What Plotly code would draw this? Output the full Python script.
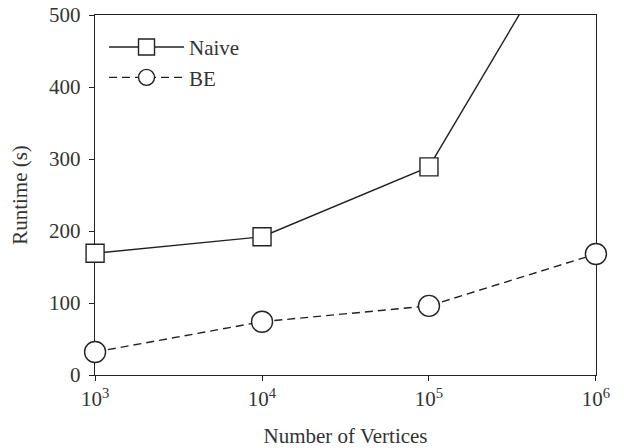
import plotly.graph_objects as go

vertices = [1e3, 1e4, 1e5, 1e6]
naive = [169, 192, 289, 680]
be = [32, 74, 96, 168]
x_tickvals = [1e3, 1e4, 1e5, 1e6]
x_ticktext = ["10<sup>3</sup>", "10<sup>4</sup>", "10<sup>5</sup>", "10<sup>6</sup>"]
y_tickvals = [0, 100, 200, 300, 400, 500]

font_family = "Liberation Serif, DejaVu Serif, serif"
ink = "#222222"
txt = "#333333"

fig = go.Figure()
fig.add_trace(go.Scatter(
    x=vertices, y=naive, name="Naive", mode="lines+markers", cliponaxis=False,
    line=dict(color=ink, width=1.4),
    marker=dict(symbol="square", size=18, color="white", line=dict(color=ink, width=1.4)),
))
fig.add_trace(go.Scatter(
    x=vertices, y=be, name="BE", mode="lines+markers", cliponaxis=False,
    line=dict(color=ink, width=1.4, dash="8px,5px"),
    marker=dict(symbol="circle", size=21, color="white", line=dict(color=ink, width=1.4)),
))

def axis_common():
    return dict(
        showline=True, linecolor=ink, linewidth=1.4, mirror=True,
        ticks="outside", ticklen=5, tickcolor=ink, tickwidth=1.4,
        showgrid=False, zeroline=False, automargin=False, layer="below traces",
        tickfont=dict(family=font_family, size=21, color=txt),
    )

fig.update_layout(
    width=624, height=448,
    margin=dict(l=95, r=28, t=15, b=73),
    paper_bgcolor="white", plot_bgcolor="white",
    font=dict(family=font_family, color=txt, size=21),
    showlegend=True,
    legend=dict(
        x=0.018, y=0.967, xanchor="left", yanchor="top",
        bgcolor="rgba(0,0,0,0)", font=dict(family=font_family, size=21, color=txt),
        itemwidth=75,
    ),
    xaxis=dict(type="log", range=[2.9995, 6.0005], tickvals=x_tickvals, ticktext=x_ticktext,
               title=dict(text="Number of Vertices", standoff=19,
                          font=dict(family=font_family, size=21, color=txt)),
               **axis_common()),
    yaxis=dict(range=[0, 500], tickvals=y_tickvals, ticklabelstandoff=4,
               title=dict(text="Runtime (s)", standoff=15,
                          font=dict(family=font_family, size=21, color=txt)),
               **axis_common()),
)

fig.write_html("out.html", config={"displayModeBar": False},
               post_script="document.body.style.margin='0px';")
